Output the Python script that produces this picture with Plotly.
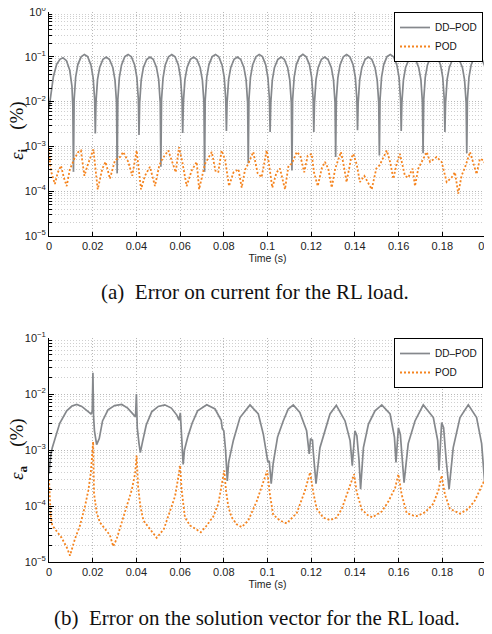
import numpy as np
import plotly.graph_objects as go

# ---------------- data (time in ms, error in %) ----------------
a_dd_ms = [0.0, 0.8, 2.0, 3.5, 5.0, 6.4, 8.0, 9.5, 10.5, 10.9,
           11.2, 11.5, 12.2, 13.2, 14.7, 16.2, 17.7, 19.2, 20.2, 20.9,
           21.2, 21.5, 22.2, 23.2, 24.7, 26.2, 27.7, 29.2, 30.2, 30.9,
           31.2, 31.5, 32.2, 33.2, 34.7, 36.2, 37.7, 39.2, 40.2, 40.9,
           41.2, 41.5, 42.2, 43.2, 44.7, 46.2, 47.7, 49.2, 50.2, 50.9,
           51.2, 51.5, 52.2, 53.2, 54.7, 56.2, 57.7, 59.2, 60.2, 60.9,
           61.2, 61.5, 62.2, 63.2, 64.7, 66.2, 67.7, 69.2, 70.2, 70.9,
           71.2, 71.5, 72.2, 73.2, 74.7, 76.2, 77.7, 79.2, 80.2, 80.9,
           81.2, 81.5, 82.2, 83.2, 84.7, 86.2, 87.7, 89.2, 90.2, 90.9,
           91.2, 91.5, 92.2, 93.2, 94.7, 96.2, 97.7, 99.2, 100.2, 100.9,
           101.2, 101.5, 102.2, 103.2, 104.7, 106.2, 107.7, 109.2, 110.2, 110.9,
           111.2, 111.5, 112.2, 113.2, 114.7, 116.2, 117.7, 119.2, 120.2, 120.9,
           121.2, 121.5, 122.2, 123.2, 124.7, 126.2, 127.7, 129.2, 130.2, 130.9,
           131.2, 131.5, 132.2, 133.2, 134.7, 136.2, 137.7, 139.2, 140.2, 140.9,
           141.2, 141.5, 142.2, 143.2, 144.7, 146.2, 147.7, 149.2, 150.2, 150.9,
           151.2, 151.5, 152.2, 153.2, 154.7, 156.2, 157.7, 159.2, 160.2, 160.9,
           161.2, 161.5, 162.2, 163.2, 164.7, 166.2, 167.7, 169.2, 170.2, 170.9,
           171.2, 171.5, 172.2, 173.2, 174.7, 176.2, 177.7, 179.2, 180.2, 180.9,
           181.2, 181.5, 182.2, 183.2, 184.7, 186.2, 187.7, 189.2, 190.2, 190.9,
           191.2, 191.5, 192.2, 193.2, 194.7, 196.2, 197.7, 199.2, 200.0]
a_dd_err = [0.0070, 0.014, 0.036, 0.068, 0.088, 0.095, 0.082, 0.050, 0.022, 0.008,
            2.7e-4, 0.011, 0.035, 0.067, 0.100, 0.113, 0.101, 0.066, 0.034, 0.011,
            1.95e-3, 0.0095, 0.031, 0.058, 0.088, 0.099, 0.087, 0.058, 0.030, 0.0095,
            2.5e-4, 0.011, 0.035, 0.066, 0.101, 0.113, 0.100, 0.066, 0.035, 0.011,
            1.8e-3, 0.0095, 0.030, 0.058, 0.087, 0.099, 0.088, 0.058, 0.031, 0.0095,
            3.5e-4, 0.011, 0.034, 0.066, 0.100, 0.112, 0.100, 0.066, 0.034, 0.011,
            2.0e-3, 0.0095, 0.031, 0.058, 0.088, 0.099, 0.087, 0.057, 0.030, 0.0095,
            2.7e-4, 0.011, 0.035, 0.067, 0.101, 0.113, 0.100, 0.066, 0.035, 0.011,
            2.2e-3, 0.0095, 0.031, 0.058, 0.088, 0.099, 0.088, 0.058, 0.031, 0.0095,
            4.2e-4, 0.011, 0.035, 0.066, 0.100, 0.113, 0.101, 0.066, 0.034, 0.011,
            2.1e-3, 0.0095, 0.030, 0.058, 0.087, 0.099, 0.088, 0.058, 0.030, 0.0095,
            2.9e-4, 0.011, 0.035, 0.067, 0.100, 0.113, 0.100, 0.067, 0.035, 0.011,
            2.1e-3, 0.0095, 0.031, 0.058, 0.088, 0.099, 0.087, 0.058, 0.031, 0.0095,
            5.8e-4, 0.011, 0.034, 0.066, 0.100, 0.112, 0.100, 0.066, 0.035, 0.011,
            2.3e-3, 0.0095, 0.031, 0.058, 0.088, 0.099, 0.088, 0.058, 0.030, 0.0095,
            6.3e-4, 0.011, 0.035, 0.067, 0.101, 0.113, 0.100, 0.066, 0.035, 0.011,
            2.2e-3, 0.0095, 0.030, 0.058, 0.087, 0.100, 0.088, 0.058, 0.031, 0.0095,
            7.0e-4, 0.011, 0.035, 0.066, 0.100, 0.113, 0.101, 0.066, 0.035, 0.011,
            2.1e-3, 0.0095, 0.031, 0.058, 0.088, 0.099, 0.087, 0.058, 0.030, 0.0095,
            7.0e-4, 0.011, 0.035, 0.066, 0.100, 0.112, 0.100, 0.066, 0.048]

a_pod_ms = [0.0, 0.5, 1.2, 2.7, 4.0, 5.5, 6.8, 8.1, 9.5, 11.6, 13.4, 14.6, 16.2, 17.6,
            20.3, 22.3, 24.4, 25.9, 27.9, 30.2, 32.5, 34.0, 36.3, 38.1, 40.1, 42.1,
            43.9, 46.2, 48.5, 50.5, 51.9, 54.6, 56.4, 58.0, 59.5, 61.0, 63.0, 65.3,
            67.6, 68.7, 71.4, 73.3, 74.5, 76.3, 77.5, 79.0, 80.6, 82.4, 84.4, 86.7,
            88.2, 89.7, 91.2, 93.5, 95.5, 97.3, 99.6, 100.4, 102.2, 104.1, 105.7,
            108.0, 109.6, 111.1, 113.4, 115.0, 116.8, 118.4, 120.2, 121.3, 123.0,
            124.8, 126.3, 127.8, 129.4, 131.0, 133.6, 134.6, 136.2, 138.2, 139.3,
            140.8, 142.3, 144.3, 147.7, 149.8, 151.3, 154.6, 156.1, 157.6, 159.1,
            160.6, 162.9, 164.4, 166.4, 167.5, 169.0, 172.9, 174.4, 177.4, 179.7,
            182.0, 184.2, 185.8, 187.3, 188.8, 190.4, 192.7, 194.2, 195.7, 197.2,
            198.8, 200.0]
a_pod_err = [9.0e-4, 4.0e-4, 2.5e-4, 1.45e-4, 2.6e-4, 3.7e-4, 2.0e-4, 1.3e-4, 3.0e-4, 5.3e-4,
             7.5e-4, 8.1e-4, 2.2e-4, 3.7e-4, 8.6e-4, 1.1e-4, 3.2e-4, 4.5e-4, 1.9e-4, 4.9e-4,
             5.8e-4, 7.5e-4, 4.5e-4, 2.2e-4, 8.1e-4, 1.1e-4, 2.2e-4, 3.5e-4, 1.3e-4, 3.8e-4,
             5.3e-4, 8.1e-4, 4.5e-4, 2.65e-4, 9.6e-4, 4.5e-4, 1.3e-4, 2.9e-4, 4.5e-4, 1.1e-4,
             4.1e-4, 6.2e-4, 7.5e-4, 2.7e-4, 2.7e-4, 8.1e-4, 5.0e-4, 1.3e-4, 2.6e-4, 3.1e-4,
             1.2e-4, 3.0e-4, 4.1e-4, 7.5e-4, 2.5e-4, 2.05e-4, 8.1e-4, 5.0e-4, 1.2e-4, 2.6e-4,
             3.2e-4, 1.1e-4, 3.7e-4, 4.1e-4, 7.5e-4, 6.2e-4, 2.65e-4, 6.2e-4, 6.8e-4, 2.6e-4,
             1.3e-4, 3.2e-4, 4.5e-4, 3.2e-4, 1.2e-4, 3.2e-4, 7.5e-4, 4.5e-4, 1.6e-4, 5.3e-4,
             6.8e-4, 4.0e-4, 1.6e-4, 2.2e-4, 1.1e-4, 3.2e-4, 3.8e-4, 8.1e-4, 4.5e-4, 1.9e-4,
             4.1e-4, 6.8e-4, 2.2e-4, 2.0e-4, 3.2e-4, 1.3e-4, 3.2e-4, 7.5e-4, 4.5e-4, 5.8e-4,
             4.5e-4, 1.6e-4, 2.0e-4, 2.65e-4, 8.8e-5, 2.2e-4, 3.4e-4, 7.5e-4, 4.5e-4, 2.4e-4,
             5.3e-4, 4.9e-4, 3.8e-4]

b_dd_ms = [0.0, 0.8, 1.5, 2.7, 4.9, 8.1, 10.5, 12.7, 15.0, 17.5, 19.2, 19.8, 20.1, 20.4,
           20.8, 21.8, 23.0, 24.5, 27.0, 30.0, 33.3, 36.0, 38.5, 39.6, 40.0, 40.4, 41.2,
           41.8, 42.8, 44.5, 47.0, 50.0, 53.0, 56.0, 58.5, 59.5, 60.1, 60.4, 60.8, 61.4,
           62.0, 63.5, 65.5, 68.0, 72.2, 76.0, 78.8, 79.3, 80.0, 80.8, 81.6, 82.2, 84.4,
           87.4, 92.0, 95.8, 98.1, 99.3, 100.2, 100.8, 101.7, 102.6, 104.6, 107.2, 109.5,
           111.8, 114.8, 117.9, 119.1, 119.7, 120.6, 120.9, 122.2, 124.0, 128.6, 131.5,
           135.5, 137.8, 138.8, 140.0, 140.9, 141.9, 142.6, 143.9, 146.2, 149.2, 152.3,
           156.1, 158.1, 158.8, 159.9, 160.8, 161.7, 162.5, 164.4, 167.5, 171.3, 175.9,
           177.9, 178.5, 179.7, 180.6, 181.8, 183.1, 185.0, 188.1, 191.9, 195.7, 198.0,
           199.0, 199.5, 200.0]
b_dd_err = [3.8e-4, 8.0e-4, 1.1e-3, 1.6e-3, 3.0e-3, 5.0e-3, 6.1e-3, 6.5e-3, 6.0e-3, 5.0e-3,
            4.4e-3, 4.9e-3, 2.4e-2, 4.0e-3, 2.2e-3, 1.25e-3, 1.6e-3, 3.3e-3, 5.2e-3, 6.2e-3,
            6.5e-3, 5.6e-3, 4.4e-3, 3.9e-3, 1.0e-2, 2.5e-3, 1.3e-3, 9.0e-4, 1.4e-3, 2.8e-3,
            4.8e-3, 6.0e-3, 6.4e-3, 5.6e-3, 4.2e-3, 3.4e-3, 4.6e-3, 3.0e-3, 1.2e-3, 5.5e-4,
            1.0e-3, 1.7e-3, 3.0e-3, 5.0e-3, 6.4e-3, 5.4e-3, 3.4e-3, 2.4e-3, 2.2e-3, 1.0e-3,
            2.8e-4, 6.0e-4, 1.5e-3, 3.8e-3, 6.4e-3, 4.4e-3, 1.9e-3, 9.7e-4, 6.0e-4, 6.4e-4,
            2.5e-4, 5.8e-4, 1.7e-3, 3.3e-3, 5.4e-3, 6.4e-3, 4.7e-3, 2.2e-3, 8.5e-4, 1.6e-3,
            1.5e-3, 9.7e-4, 2.5e-4, 1.1e-3, 4.4e-3, 6.3e-3, 3.3e-3, 1.47e-3, 5.25e-4, 2.2e-3,
            1.8e-3, 6.5e-4, 2.0e-4, 1.1e-3, 2.9e-3, 5.0e-3, 6.4e-3, 4.4e-3, 1.7e-3, 6.0e-4,
            2.5e-3, 1.9e-3, 6.5e-4, 2.6e-4, 1.3e-3, 3.3e-3, 6.4e-3, 3.8e-3, 1.47e-3, 4.3e-4,
            3.1e-3, 2.5e-3, 6.5e-4, 2.0e-4, 1.1e-3, 3.8e-3, 6.4e-3, 3.8e-3, 1.3e-3, 3.7e-4,
            2.3e-4, 2.0e-3]

b_pod_ms = [0.0, 0.4, 0.8, 1.5, 3.5, 5.8, 8.2, 9.6, 11.9, 14.2, 16.5, 18.0, 19.1, 19.8,
            20.2, 20.6, 21.8, 23.3, 25.6, 27.9, 29.4, 31.0, 33.3, 35.6, 37.9, 39.4, 40.1,
            40.8, 41.8, 43.2, 46.2, 49.3, 52.6, 55.4, 57.7, 59.2, 60.0, 60.7, 62.2, 64.5,
            66.8, 69.5, 72.0, 75.2, 77.5, 79.0, 80.2, 81.0, 82.1, 83.6, 85.9, 88.2, 91.2,
            95.0, 98.1, 99.9, 101.1, 102.6, 105.7, 108.8, 113.4, 117.2, 119.5, 121.0,
            122.5, 125.5, 128.6, 131.6, 134.0, 137.0, 139.6, 140.8, 143.1, 146.2, 148.1,
            152.3, 155.3, 158.4, 159.9, 161.4, 163.7, 166.5, 168.3, 172.1, 175.9, 178.2,
            179.7, 181.2, 183.5, 188.1, 191.9, 194.9, 198.0, 199.5, 200.0]
b_pod_err = [3.0e-4, 1.5e-4, 6.5e-5, 4.5e-5, 3.6e-5, 2.7e-5, 1.8e-5, 1.3e-5, 2.6e-5, 4.5e-5,
             1.0e-4, 1.9e-4, 3.8e-4, 1.0e-3, 1.4e-3, 1.7e-4, 7.6e-5, 5.1e-5, 3.9e-5, 3.0e-5,
             1.9e-5, 2.6e-5, 5.1e-5, 1.0e-4, 1.95e-4, 3.8e-4, 8.0e-4, 2.2e-4, 1.0e-4, 5.5e-5,
             3.9e-5, 2.7e-5, 3.9e-5, 8.2e-5, 1.5e-4, 3.3e-4, 5.3e-4, 1.95e-4, 6.3e-5, 4.5e-5,
             3.9e-5, 3.4e-5, 4.4e-5, 6.5e-5, 1.1e-4, 2.4e-4, 4.3e-4, 1.9e-4, 9.5e-5, 6.3e-5,
             4.7e-5, 4.2e-5, 5.5e-5, 1.2e-4, 2.7e-4, 4.3e-4, 1.6e-4, 7.0e-5, 5.5e-5, 4.9e-5,
             7.5e-5, 1.9e-4, 4.0e-4, 1.7e-4, 9.0e-5, 6.2e-5, 5.6e-5, 6.2e-5, 8.9e-5, 1.9e-4,
             3.7e-4, 1.8e-4, 8.7e-5, 6.7e-5, 6.3e-5, 8.0e-5, 1.2e-4, 2.1e-4, 3.7e-4, 1.6e-4,
             7.5e-5, 6.8e-5, 6.6e-5, 7.7e-5, 1.1e-4, 1.9e-4, 3.5e-4, 1.6e-4, 8.9e-5, 7.3e-5,
             8.9e-5, 1.25e-4, 2.2e-4, 2.9e-4, 3.3e-4]

series_names = ["DD\u2013POD", "POD"]
ytick_a = [1e-5, 1e-4, 1e-3, 1e-2, 1e-1, 1e0]
ytext_a = ["10<sup>\u22125</sup>", "10<sup>\u22124</sup>", "10<sup>\u22123</sup>",
           "10<sup>\u22122</sup>", "10<sup>\u22121</sup>", "10<sup>0</sup>"]
ytick_b = [1e-5, 1e-4, 1e-3, 1e-2, 1e-1]
ytext_b = ytext_a[:5]
captions = ["(a)  Error on current for the RL load.",
            "(b)  Error on the solution vector for the RL load."]
ylabels = ["<i>\u03b5</i><sub><b>i</b></sub>\u2003(%)", "<i>\u03b5</i><sub><b>a</b></sub>\u2003(%)"]

# ---------------- figure ----------------
# The page body has an 8px margin, so the figure is 8px smaller and all
# reference pixel positions are shifted by that offset.
OFF = 8
W, H = 492 - OFF, 634 - OFF
px = lambda x: (x - OFF) / W
py = lambda y: 1 - (y - OFF) / H

GRAY = "#85888c"
ORANGE = "#f5841f"
GRID = "#b8b8b8"
MINOR = "#cfcfcf"
SANS = "Liberation Sans, Arial, sans-serif"
SERIF = "Liberation Serif, Times New Roman, serif"

fig = go.Figure()
sec = lambda v: np.array(v) / 1000.0

fig.add_trace(go.Scatter(x=sec(a_dd_ms), y=a_dd_err, mode="lines", name=series_names[0],
                         line=dict(color=GRAY, width=1.7), xaxis="x", yaxis="y", legend="legend"))
fig.add_trace(go.Scatter(x=sec(a_pod_ms), y=a_pod_err, mode="lines", name=series_names[1],
                         line=dict(color=ORANGE, width=1.8, dash="2px,2px"), xaxis="x", yaxis="y", legend="legend"))
fig.add_trace(go.Scatter(x=sec(b_dd_ms), y=b_dd_err, mode="lines", name=series_names[0],
                         line=dict(color=GRAY, width=1.7), xaxis="x2", yaxis="y2", legend="legend2"))
fig.add_trace(go.Scatter(x=sec(b_pod_ms), y=b_pod_err, mode="lines", name=series_names[1],
                         line=dict(color=ORANGE, width=1.8, dash="2px,2px"), xaxis="x2", yaxis="y2", legend="legend2"))

xdom = [px(49), px(486)]
ya_dom = [py(236), py(12)]
yb_dom = [py(562), py(338)]

def xaxis_cfg(anchor):
    return dict(domain=xdom, anchor=anchor, range=[0, 0.2], tickmode="linear", tick0=0, dtick=0.02,
                automargin=False, ticklabeloverflow="allow",
                ticks="inside", ticklen=4, tickcolor="black", showline=True, linecolor="black",
                linewidth=1, showgrid=True, gridcolor=GRID, griddash="1px,2px", gridwidth=1,
                zeroline=False, tickfont=dict(family=SANS, size=11, color="#222"),
                title=dict(text="Time (s)", font=dict(family=SANS, size=10.5, color="#222"), standoff=0))

def yaxis_cfg(anchor, dom, rng, tv, tt):
    return dict(domain=dom, anchor=anchor, type="log", range=rng, tickmode="array", tickvals=tv,
                automargin=False, ticklabeloverflow="allow",
                ticktext=tt, ticks="inside", ticklen=5, tickcolor="black", showline=True,
                linecolor="black", linewidth=1, showgrid=True, gridcolor=GRID, griddash="1px,2px",
                gridwidth=1, zeroline=False, tickfont=dict(family=SANS, size=11, color="#222"),
                minor=dict(dtick="D1", ticks="inside", ticklen=3, tickcolor="black",
                           showgrid=True, gridcolor=MINOR, griddash="1px,2px", gridwidth=1))

legend_cfg = dict(xanchor="right", yanchor="top", bgcolor="white", bordercolor="black",
                  borderwidth=1, font=dict(family=SANS, size=10, color="#111"),
                  itemwidth=30, tracegroupgap=0)

fig.update_layout(
    width=W, height=H, margin=dict(l=0, r=0, t=0, b=0, autoexpand=False),
    paper_bgcolor="white", plot_bgcolor="white", showlegend=True,
    xaxis=xaxis_cfg("y"), yaxis=yaxis_cfg("x", ya_dom, [-5, 0], ytick_a, ytext_a),
    xaxis2=xaxis_cfg("y2"), yaxis2=yaxis_cfg("x2", yb_dom, [-5, -1], ytick_b, ytext_b),
    legend=dict(x=px(483), y=py(12), **legend_cfg),
    legend2=dict(x=px(483), y=py(338), **legend_cfg),
    annotations=[
        dict(text=ylabels[0], x=px(18), y=py(131), xref="paper",
             yref="paper", xanchor="center", yanchor="middle", showarrow=False, textangle=-90,
             font=dict(family=SERIF, size=19, color="#111")),
        dict(text=ylabels[1], x=px(18), y=py(449), xref="paper",
             yref="paper", xanchor="center", yanchor="middle", showarrow=False, textangle=-90,
             font=dict(family=SERIF, size=19, color="#111")),
        dict(text=captions[0], x=px(255), y=py(292), xref="paper", yref="paper",
             xanchor="center", yanchor="middle", showarrow=False,
             font=dict(family=SERIF, size=21, color="#111")),
        dict(text=captions[1], x=px(257), y=py(618), xref="paper", yref="paper",
             xanchor="center", yanchor="middle", showarrow=False,
             font=dict(family=SERIF, size=21, color="#111")),
    ],
)

fig.write_html("out.html")
